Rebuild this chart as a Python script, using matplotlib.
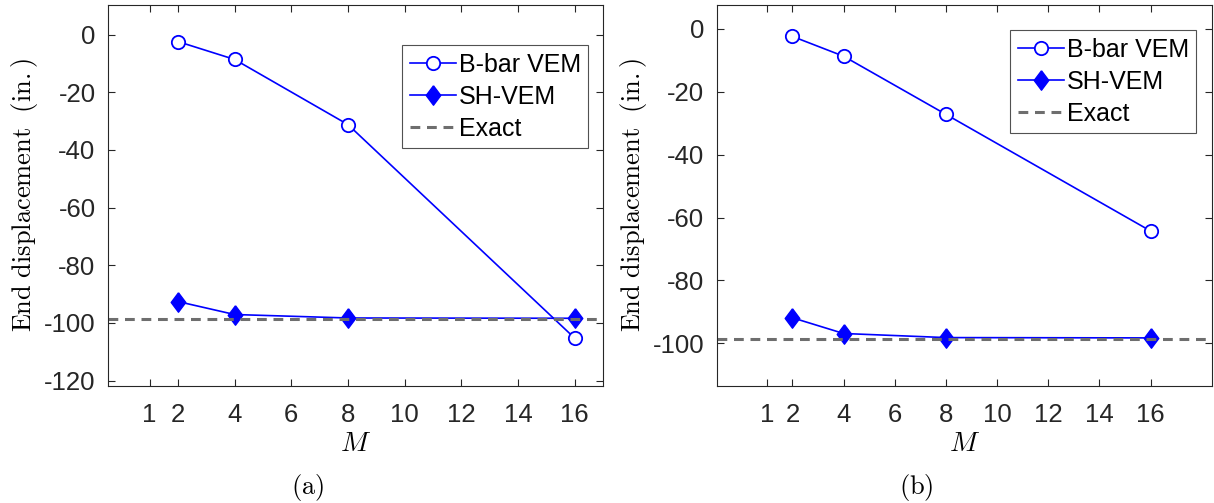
import matplotlib
matplotlib.use("Agg")
import matplotlib.pyplot as plt

plt.rcParams['font.family'] = ['Liberation Sans', 'DejaVu Sans']
plt.rcParams['mathtext.fontset'] = 'cm'
plt.rcParams['axes.unicode_minus'] = False

# mesh refinement M
M = [2, 4, 8, 16]
xticks = [1, 2, 4, 6, 8, 10, 12, 14, 16]

# panel (a)
bbar_a = [-2.4, -8.6, -31.2, -105.3]
sh_a = [-92.6, -97.1, -98.3, -98.4]
exact_a = -98.6
yticks_a = [0, -20, -40, -60, -80, -100, -120]

# panel (b)
bbar_b = [-2.4, -8.7, -27.2, -64.3]
sh_b = [-91.9, -96.9, -98.2, -98.3]
exact_b = -98.5
yticks_b = [0, -20, -40, -60, -80, -100]

axcol = '#262626'
diamond = [(0, 1), (0.75, 0), (0, -1), (-0.75, 0), (0, 1)]

fig = plt.figure(figsize=(12.14, 5.03), dpi=100)
ax_a = fig.add_axes([108/1214, 117/503, 495/1214, 381/503])
ax_b = fig.add_axes([717/1214, 117/503, 495/1214, 381/503])

panels = [
    (ax_a, bbar_a, sh_a, exact_a, yticks_a, (-0.47, 17.0), (-121.9, 10.3), '(a)', 0.253, (0.970, 0.895)),
    (ax_b, bbar_b, sh_b, exact_b, yticks_b, (-0.95, 18.4), (-113.6, 7.6), '(b)', 0.755, (0.968, 0.934)),
]

for ax, bbar, sh, exact, yt, xl, yl, cap, cx, lpos in panels:
    ax.plot(M, bbar, '-', color='blue', lw=1.2, marker='o', ms=9.6,
            mfc='white', mec='blue', mew=1.3, label='B-bar VEM')
    ax.plot(M, sh, '-', color='blue', lw=1.2, marker=diamond, ms=14,
            mfc='blue', mec='blue', label='SH-VEM')
    ax.axhline(exact, color='#6e6e6e', lw=2.2, ls=(0, (3.2, 2.2)), label='Exact')
    ax.set_xlim(*xl)
    ax.set_ylim(*yl)
    ax.set_xticks(xticks)
    ax.set_yticks(yt)
    ax.tick_params(direction='in', top=True, right=True, length=5, width=0.8,
                   colors=axcol, labelsize=18.5)
    ax.tick_params(axis='x', pad=12)
    ax.tick_params(axis='y', pad=9)
    for s in ax.spines.values():
        s.set_color(axcol)
        s.set_linewidth(0.8)
    ax.set_xlabel(r'$M$', fontsize=20, labelpad=3)
    ax.set_ylabel(r'$\mathrm{End\ displacement\ \ (in.)}$', fontsize=19, labelpad=3)
    leg = ax.legend(loc='upper right', bbox_to_anchor=lpos, fontsize=18,
                    frameon=True, fancybox=False, handlelength=1.85,
                    handletextpad=0.1, borderpad=0.3, labelspacing=0.32,
                    borderaxespad=0)
    leg.get_frame().set_edgecolor(axcol)
    leg.get_frame().set_linewidth(0.8)
    fig.text(cx, 0.0, r'$\mathrm{' + cap + '}$', ha='center', va='bottom', fontsize=19)

fig.savefig('out.png', dpi=100)
